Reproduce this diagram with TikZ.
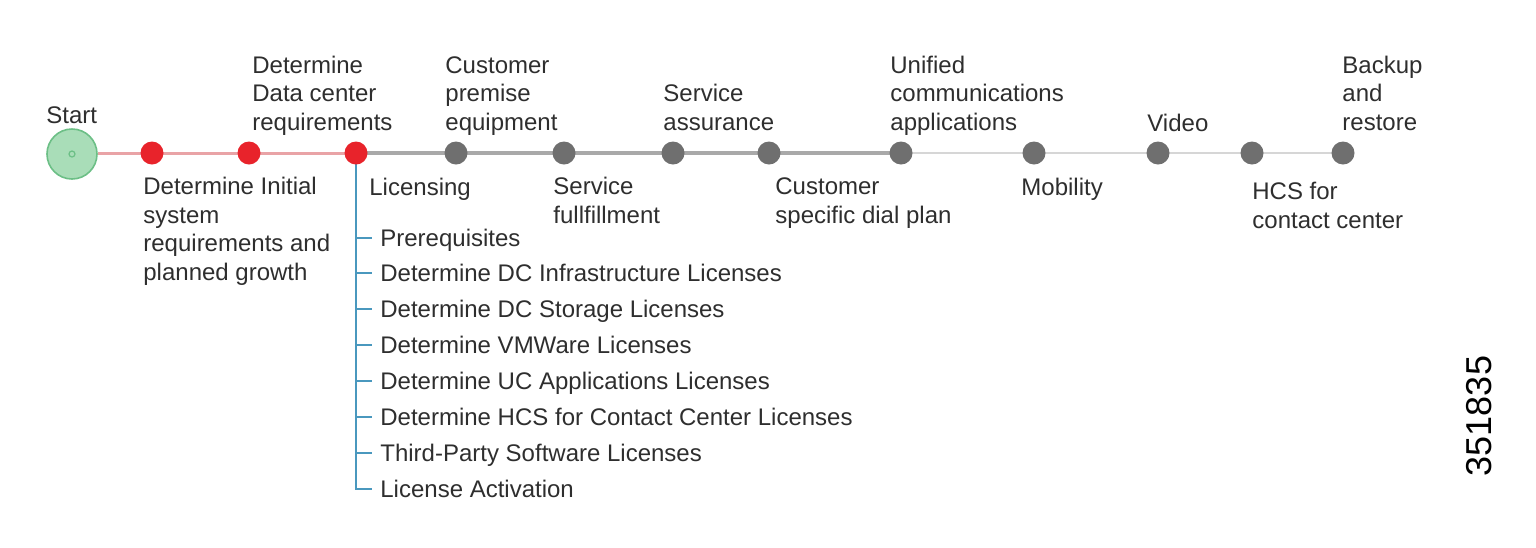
\documentclass[tikz,border=0pt]{standalone}
\usepackage{fontspec}
\setmainfont{Liberation Sans}
\definecolor{txt}{HTML}{2E2E2E}
\definecolor{redline}{HTML}{E9A3A6}
\definecolor{greyline}{HTML}{A9A9A9}
\definecolor{lightline}{HTML}{D6D6D6}
\definecolor{reddot}{HTML}{E8232B}
\definecolor{greydot}{HTML}{6F6F6F}
\definecolor{startfill}{HTML}{A9DDB8}
\definecolor{startdraw}{HTML}{6CBF86}
\definecolor{bluel}{HTML}{4A98BE}
\begin{document}
\begin{tikzpicture}[x=0.5pt,y=-0.5pt,
  lbl/.style={anchor=base west,inner sep=0pt,align=left,text=txt,font=\fontsize{12}{14.3}\selectfont},
  sub/.style={anchor=base west,inner sep=0pt,text=txt,font=\fontsize{12}{14.3}\selectfont},
  rdot/.style={circle,fill=reddot,minimum size=11.5pt,inner sep=0pt},
  gdot/.style={circle,fill=greydot,minimum size=11.5pt,inner sep=0pt},
  tick/.style={draw=bluel,line width=0.8pt}]
\useasboundingbox (0,0) rectangle (1536,547);
% timeline points
\node[circle,fill=startfill,draw=startdraw,line width=0.8pt,minimum size=25pt,inner sep=0pt] (start) at (72,154) {};
\node[circle,draw=startdraw,line width=0.6pt,minimum size=3pt,inner sep=0pt] (startc) at (72,154) {};
\coordinate (r1c) at (152,153);
\coordinate (r2c) at (249,153);
\coordinate (r3c) at (356,153);
\coordinate (g1c) at (456,153);
\coordinate (g2c) at (564,153);
\coordinate (g3c) at (673,153);
\coordinate (g4c) at (769,153);
\coordinate (g5c) at (901,153);
\coordinate (g6c) at (1034,153);
\coordinate (g7c) at (1158,153);
\coordinate (g8c) at (1252,153);
\coordinate (g9c) at (1343,153);
% lines
\draw[redline,line width=1.5pt] (start.east |- r1c) -- (r1c) -- (r2c) -- (r3c);
\draw[greyline,line width=1.8pt] (r3c) -- (g1c) -- (g2c) -- (g3c) -- (g4c) -- (g5c);
\draw[lightline,line width=1.2pt] (g5c) -- (g6c) -- (g7c) -- (g8c) -- (g9c);
% sublist
\node[sub] (s1) at (380,246) {Prerequisites};
\node[sub] (s2) at (380,281) {Determine DC Infrastructure Licenses};
\node[sub] (s3) at (380,317) {Determine DC Storage Licenses};
\node[sub] (s4) at (380,353) {Determine VMWare Licenses};
\node[sub] (s5) at (380,389) {Determine UC Applications Licenses};
\node[sub] (s6) at (380,425) {Determine HCS for Contact Center Licenses};
\node[sub] (s7) at (380,461) {Third-Party Software Licenses};
\node[sub] (s8) at (380,497) {License Activation};
\coordinate (corner) at (356,489);
\draw[tick] (r3c) -- (corner) -- ([xshift=-4pt,yshift=4pt]s8.base west);
\foreach \i in {1,...,7} {
  \draw[tick] ([yshift=4pt]s\i.base west -| r3c) -- ([xshift=-4pt,yshift=4pt]s\i.base west);
}
% dots
\node[rdot] (r1) at (r1c) {};
\node[rdot] (r2) at (r2c) {};
\node[rdot] (r3) at (r3c) {};
\foreach \i in {1,...,9} {\node[gdot] (g\i) at (g\i c) {};}
% labels above
\node[lbl] (lstart) at (46,123) {Start};
\node[lbl] (l3) at (252,130.5) {Determine\\Data center\\requirements};
\node[lbl] (lg1) at (445,130.5) {Customer\\premise\\equipment};
\node[lbl] (lg3) at (663,130.5) {Service\\assurance};
\node[lbl] (lg5) at (890,130.5) {Unified\\communications\\applications};
\node[lbl] (lg7) at (1147,131) {Video};
\node[lbl] (lg9) at (1342,130.5) {Backup\\and\\restore};
% labels below
\node[lbl] (l1) at (143,280.5) {Determine Initial\\system\\requirements and\\planned growth};
\node[lbl] (lg0) at (369,195) {Licensing};
\node[lbl] (lg2) at (553,223.5) {Service\\fullfillment};
\node[lbl] (lg4) at (775,223.5) {Customer\\specific dial plan};
\node[lbl] (lg6) at (1021,195) {Mobility};
\node[lbl] (lg8) at (1252,228.5) {HCS for\\contact center};
% figure number
\node[rotate=90,inner sep=0pt,text=black,font=\fontsize{18}{20}\selectfont] (num) at (1479,416) {351835};
\end{tikzpicture}
\end{document}
